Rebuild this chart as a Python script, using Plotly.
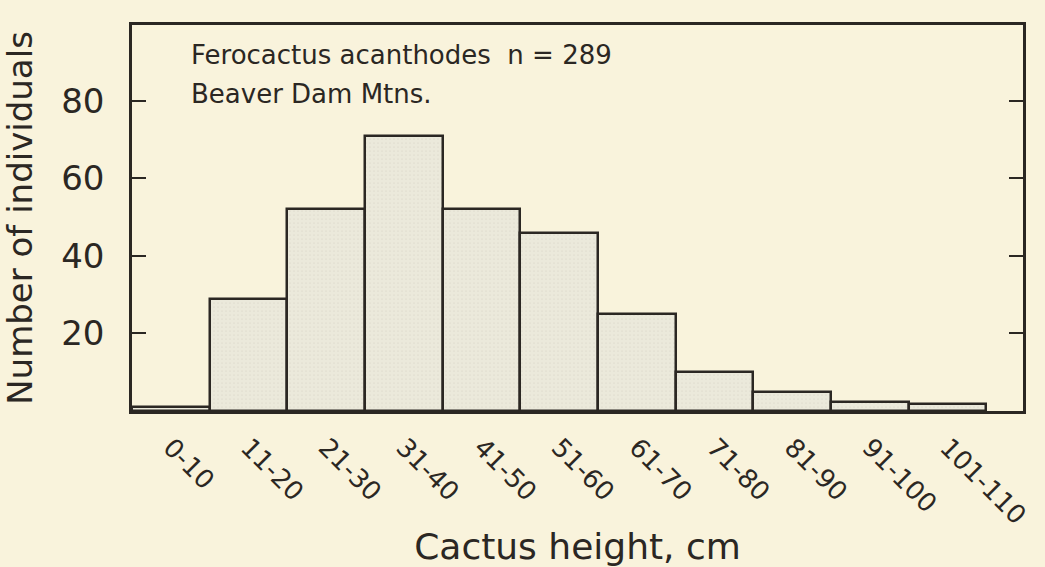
import plotly.graph_objects as go

categories = ["0-10", "11-20", "21-30", "31-40", "41-50", "51-60",
              "61-70", "71-80", "81-90", "91-100", "101-110"]
counts = [1, 29, 52, 71, 52, 46, 25, 10, 5, 2.4, 1.7]
y_ticks = [20, 40, 60, 80]

INK = "#2b2723"
BG = "#f9f3dc"
FONT = "DejaVu Sans"

fig = go.Figure(go.Bar(
    x=categories, y=counts,
    marker=dict(color="#e9e7d8",
                line=dict(color=INK, width=2.5),
                pattern=dict(shape=".", size=4, solidity=0.15,
                             fgcolor="#d4d2c4", bgcolor="#ebe9db")),
    width=1.0,
))

fig.update_layout(
    width=1045, height=567,
    margin=dict(l=132, r=22, t=25, b=156, autoexpand=False),
    paper_bgcolor=BG, plot_bgcolor=BG,
    bargap=0, showlegend=False,
    font=dict(family=FONT, color=INK),
)

fig.update_xaxes(
    type="category", range=[-0.5, 10.97], automargin=False,
    showline=True, linecolor=INK, linewidth=2.5, mirror=True,
    showgrid=False, zeroline=False, ticks="",
    tickangle=45, ticklabelstandoff=8,
    tickfont=dict(size=26, color=INK, family=FONT),
    title=dict(text="Cactus height, cm", font=dict(size=36, color=INK, family=FONT), standoff=8),
)
fig.update_yaxes(
    range=[0, 99.5], automargin=False,
    tickvals=y_ticks, ticktext=[str(v) for v in y_ticks],
    showline=True, linecolor=INK, linewidth=2.5, mirror="ticks",
    ticks="inside", ticklen=14, tickwidth=2, tickcolor=INK,
    showgrid=False, zeroline=False,
    ticklabelstandoff=18,
    tickfont=dict(size=34, color=INK, family=FONT),
    title=dict(text="Number of individuals", font=dict(size=34, color=INK, family=FONT), standoff=24),
)

fig.add_annotation(text="Ferocactus acanthodes  n = 289", xref="paper", yref="paper",
                   x=(189 - 132) / 891, y=(411 - 55) / 386, xanchor="left", yanchor="middle",
                   showarrow=False, font=dict(size=26, color=INK, family=FONT))
fig.add_annotation(text="Beaver Dam Mtns.", xref="paper", yref="paper",
                   x=(189 - 132) / 891, y=(411 - 94) / 386, xanchor="left", yanchor="middle",
                   showarrow=False, font=dict(size=26, color=INK, family=FONT))

fig.write_html("out.html", config={"displayModeBar": False},
               post_script="document.body.style.margin='0';document.body.style.background='%s';" % BG)
